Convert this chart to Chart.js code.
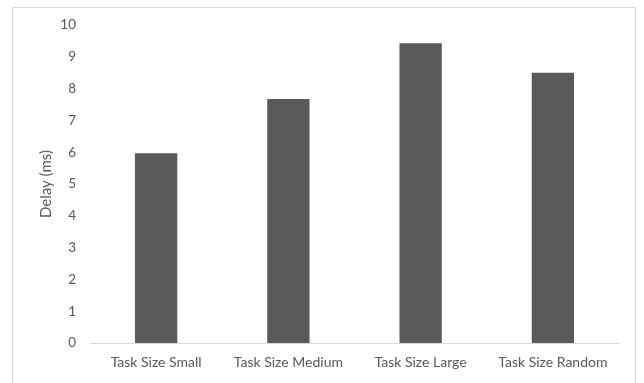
<!DOCTYPE html>
<html lang="en">
<head>
    <meta charset="UTF-8">
    <title>Delay by task size</title>
    <script src="https://cdn.jsdelivr.net/npm/chart.js"></script>
    <style>
        body { margin: 0; background: #fff; }
        .frame {
            position: absolute;
            left: 12px; top: 7px;
            width: 624px; height: 390px;
            border: 1px solid #d9d9d9;
            box-sizing: border-box;
        }
        .chart-box {
            position: absolute;
            left: 0; top: 0;
            width: 644px; height: 383px;
        }
    </style>
</head>
<body>
    <div class="frame"></div>
    <div class="chart-box"><canvas id="delayChart"></canvas></div>

    <script>
        const categories = ["Task Size Small", "Task Size Medium", "Task Size Large", "Task Size Random"];
        const delayMs = [5.97, 7.67, 9.43, 8.5];
        const yTicks = [0, 1, 2, 3, 4, 5, 6, 7, 8, 9, 10];

        const textColor = "#595959";
        const family = "Lato, 'Open Sans', sans-serif";

        new Chart(document.getElementById("delayChart"), {
            type: "bar",
            data: {
                labels: categories,
                datasets: [{
                    label: "Delay (ms)",
                    data: delayMs,
                    backgroundColor: "#5a5a5a",
                    categoryPercentage: 1,
                    barPercentage: 0.32
                }]
            },
            options: {
                responsive: true,
                maintainAspectRatio: false,
                animation: false,
                layout: { padding: { left: 13, right: 25, top: 25, bottom: 0 } },
                plugins: {
                    legend: { display: false },
                    tooltip: { enabled: false }
                },
                scales: {
                    x: {
                        grid: { display: false, drawTicks: false },
                        border: { display: true, color: "#d9d9d9", width: 1 },
                        ticks: { color: textColor, font: { family, size: 14 }, padding: 11, maxRotation: 0 },
                        afterFit: (scale) => { scale.height = 40; }
                    },
                    y: {
                        min: 0,
                        max: 10,
                        afterBuildTicks: (scale) => { scale.ticks = yTicks.map(v => ({ value: v })); },
                        grid: { display: false, drawTicks: false },
                        border: { display: false },
                        ticks: { color: textColor, font: { family, size: 13.5 }, padding: 14 },
                        title: {
                            display: true,
                            text: "Delay (ms)",
                            color: textColor,
                            font: { family, size: 15 },
                            padding: { top: 24, bottom: 0 }
                        },
                        afterFit: (scale) => { scale.width = 77; }
                    }
                }
            }
        });
    </script>
</body>
</html>
